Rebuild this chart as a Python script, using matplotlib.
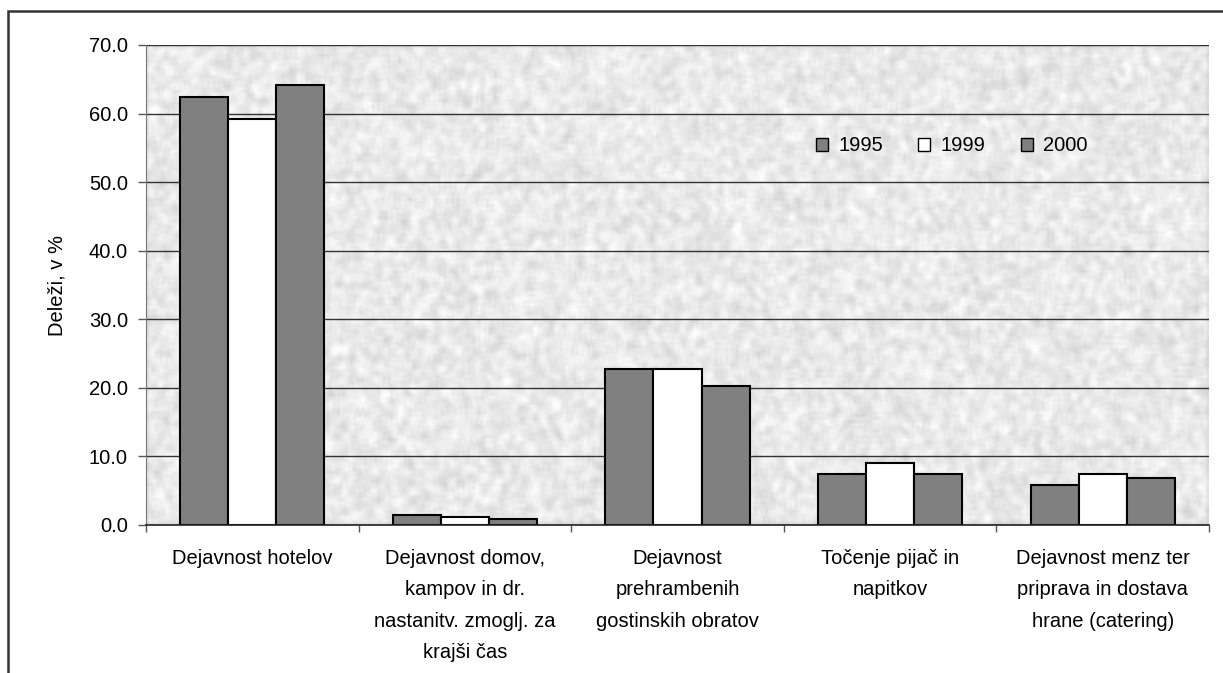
import numpy as np
import matplotlib
matplotlib.use("Agg")
import matplotlib.pyplot as plt
from matplotlib.patches import Rectangle
from matplotlib.ticker import FormatStrFormatter, FixedLocator
import matplotlib.transforms as mtransforms

categories = [
    "Dejavnost hotelov",
    "Dejavnost domov,\nkampov in dr.\nnastanitv. zmoglj. za\nkrajši čas",
    "Dejavnost\nprehrambenih\ngostinskih obratov",
    "Točenje pijač in\nnapitkov",
    "Dejavnost menz ter\npriprava in dostava\nhrane (catering)",
]
series_names = ["1995", "1999", "2000"]
v1995 = [62.4, 1.4, 22.7, 7.5, 5.8]
v1999 = [59.2, 1.1, 22.7, 9.0, 7.5]
v2000 = [64.2, 0.9, 20.3, 7.5, 6.9]
y_ticks = [0, 10, 20, 30, 40, 50, 60, 70]
y_label = "Deleži, v %"

plt.rcParams['font.family'] = ['Liberation Sans', 'DejaVu Sans']
FS = 14.5

W, H = 1223, 673
fig = plt.figure(figsize=(W / 100, H / 100), dpi=100)
L, R, T, B = 146, 1209, 45, 525
ax = fig.add_axes([L / W, 1 - B / H, (R - L) / W, (B - T) / H])

# textured background (decorative only)
rng = np.random.default_rng(7)
noise = rng.random((160, 400))
k = np.ones(3) / 3
noise = np.apply_along_axis(lambda r: np.convolve(r, k, mode='same'), 1, noise)
noise = np.apply_along_axis(lambda c: np.convolve(c, k, mode='same'), 0, noise)
noise = (noise - noise.mean()) / noise.std()
tex = np.clip(0.915 + 0.028 * noise, 0, 1)
ax.imshow(tex, cmap='gray', vmin=0, vmax=1, extent=(-0.5, 4.5, 0, 70),
          aspect='auto', zorder=0, interpolation='bilinear')

x = np.arange(len(categories))
w = 0.2258
colors = ['#808080', '#ffffff', '#808080']
for i, (vals, c, n) in enumerate(zip([v1995, v1999, v2000], colors, series_names)):
    ax.bar(x + (i - 1) * w, vals, width=w, color=c, edgecolor='black',
           linewidth=1.5, label=n, zorder=3)

ax.set_xlim(-0.5, 4.5)
ax.set_ylim(0, 70)
ax.set_yticks(y_ticks)
ax.yaxis.set_major_formatter(FormatStrFormatter('%.1f'))
ax.yaxis.grid(True, color='#333333', linewidth=1.0, zorder=1)
ax.set_axisbelow(True)

ax.xaxis.set_major_locator(FixedLocator(np.arange(-0.5, 4.6, 1.0)))
ax.xaxis.set_major_formatter(plt.NullFormatter())
ax.tick_params(axis='x', which='major', length=5, width=1, color='#555555', direction='out')
ax.tick_params(axis='y', length=6, width=1, color='#555555', pad=7, labelsize=FS)

# category labels
trans = mtransforms.blended_transform_factory(ax.transData, ax.transAxes)
for xi, cat in zip(x, categories):
    ax.text(xi, -24 / (B - T), cat, transform=trans, ha='center', va='top',
            fontsize=FS, linespacing=1.82, multialignment='center')

for s in ['top', 'right']:
    ax.spines[s].set_visible(False)
ax.spines['left'].set_color('#777777')
ax.spines['bottom'].set_color('#222222')
ax.spines['bottom'].set_linewidth(1.2)
ax.spines['bottom'].set_zorder(4)

ax.set_ylabel(y_label, fontsize=FS, labelpad=16)

leg = ax.legend(ncol=3, loc='center', bbox_to_anchor=(0.758, 0.79), frameon=False,
                fontsize=FS, handlelength=0.6, handleheight=0.6, handletextpad=0.5,
                columnspacing=1.75)
for h in leg.legend_handles:
    h.set_linewidth(1.0)

# outer frame
fig.patches.append(Rectangle((8 / W, -0.1), 1.2, 1 - 11 / H + 0.1, transform=fig.transFigure,
                             fill=False, edgecolor='#333333', linewidth=1.8, zorder=10))

fig.savefig('out.png', dpi=100, facecolor='white')
